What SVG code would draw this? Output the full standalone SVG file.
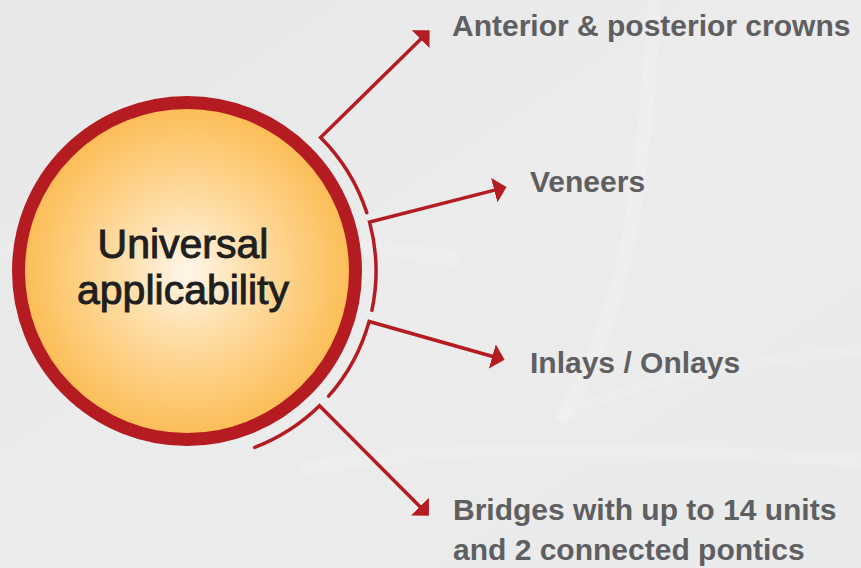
<svg xmlns="http://www.w3.org/2000/svg" width="861" height="568" viewBox="0 0 861 568">
  <defs>
    <linearGradient id="bg" x1="0" y1="0" x2="1" y2="1">
      <stop offset="0" stop-color="#e6e7e8"/>
      <stop offset="0.5" stop-color="#ececec"/>
      <stop offset="1" stop-color="#e9eaea"/>
    </linearGradient>
    <radialGradient id="disc" cx="187" cy="271" r="162" gradientUnits="userSpaceOnUse">
      <stop offset="0" stop-color="#fff6ea"/>
      <stop offset="0.45" stop-color="#fedba0"/>
      <stop offset="1" stop-color="#fcbe58"/>
    </radialGradient>
    <marker id="head" markerUnits="userSpaceOnUse" viewBox="0 -13 13 26" markerWidth="13" markerHeight="26" refX="0.5" refY="0" orient="auto">
      <path d="M0,-12.7 L12.7,0 L0,12.7 Z" fill="#b51c22"/>
    </marker>
    <style>
      .conn { fill: none; stroke: #b51c22; stroke-width: 3.5; stroke-linejoin: miter; stroke-linecap: round; marker-end: url(#head); }
      .lbl { font-family: "Liberation Sans", Arial, sans-serif; font-weight: bold; font-size: 30px; fill: #5f5f62; }
      .ctr { font-family: "Liberation Sans", Arial, sans-serif; font-size: 41px; fill: #1f1f1f; stroke: #1f1f1f; stroke-width: 1; text-anchor: middle; }
    </style>
  </defs>

  <rect x="0" y="0" width="861" height="568" fill="url(#bg)"/>
  <g id="background-swoosh" fill="none" stroke="#ffffff">
    <path d="M655,0 C645,120 640,300 560,420" stroke-width="14" opacity="0.18"/>
    <path d="M560,420 C620,380 760,360 861,350" stroke-width="10" opacity="0.12"/>
    <path d="M0,250 C120,240 300,230 460,260" stroke-width="16" opacity="0.12"/>
    <path d="M300,470 C450,440 650,450 861,460" stroke-width="14" opacity="0.14"/>
  </g>

  <g id="center-node">
    <circle cx="187" cy="271" r="168.5" fill="url(#disc)" stroke="#b51c22" stroke-width="13"/>
    <text class="ctr" x="183" y="258">Universal</text>
    <text class="ctr" x="183" y="304">applicability</text>
  </g>

  <g id="connectors">
    <path class="conn" d="M366.8,212.6 A189,189 0 0 0 320.6,137.4 L420.9,38.9"/>
    <path class="conn" d="M371.9,310.3 A189,189 0 0 0 369.6,222.1 L494.7,190.1"/>
    <path class="conn" d="M328.6,396.2 A189,189 0 0 0 369.1,321.5 L492.8,356.5"/>
    <path class="conn" d="M254.7,447.4 A189,189 0 0 0 319.5,405.8 L420.3,507"/>
  </g>

  <g id="node-crowns">
    <text class="lbl" x="452" y="36">Anterior &amp; posterior crowns</text>
  </g>
  <g id="node-veneers">
    <text class="lbl" x="530" y="192">Veneers</text>
  </g>
  <g id="node-inlays">
    <text class="lbl" x="530" y="373">Inlays / Onlays</text>
  </g>
  <g id="node-bridges">
    <text class="lbl" x="453" y="520">Bridges with up to 14 units</text>
    <text class="lbl" x="453" y="560">and 2 connected pontics</text>
  </g>
</svg>
